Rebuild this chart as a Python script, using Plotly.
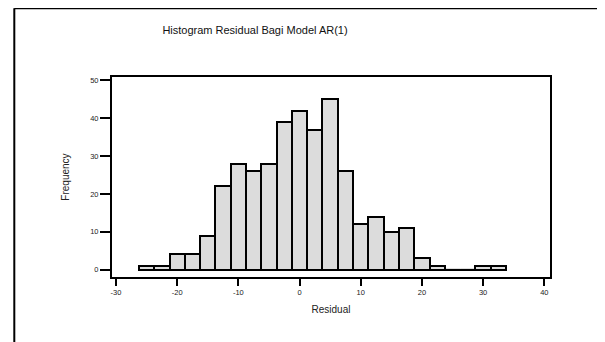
import plotly.graph_objects as go

bin_centers = [-25, -22.5, -20, -17.5, -15, -12.5, -10, -7.5, -5, -2.5, 0, 2.5,
               5, 7.5, 10, 12.5, 15, 17.5, 20, 22.5, 25, 27.5, 30, 32.5]
frequency = [1, 1, 4, 4, 9, 22, 28, 26, 28, 39, 42, 37,
             45, 26, 12, 14, 10, 11, 3, 1, 0, 0, 1, 1]
bin_width = 2.5
x_ticks = [-30, -20, -10, 0, 10, 20, 30, 40]
y_ticks = [0, 10, 20, 30, 40, 50]
title_text = "Histogram Residual Bagi Model AR(1)"
x_title = "Residual"
y_title = "Frequency"

OFF = 8  # default page body margin
W, H = 605 - OFF, 342 - OFF
ML, MR, MT, MB = 112 - OFF, 55, 77 - OFF, 65
pw, ph = W - ML - MR, H - MT - MB

def px_x(p):
    return (p - OFF - ML) / pw

def px_y(p):
    return (H - MB - (p - OFF)) / ph

fig = go.Figure()
fig.add_trace(go.Bar(
    x=bin_centers, y=frequency, width=bin_width,
    marker=dict(color="#dcdcdc", line=dict(color="black", width=2)),
    showlegend=False,
))

# empty bins are drawn as a thin line on the baseline
zx, zy = [], []
for c, f in zip(bin_centers, frequency):
    if f == 0:
        zx += [c - bin_width / 2, c + bin_width / 2, None]
        zy += [0, 0, None]
fig.add_trace(go.Scatter(x=zx, y=zy, mode="lines", line=dict(color="black", width=1.5),
                         showlegend=False, hoverinfo="skip"))

font_family = "Liberation Sans, Arial, sans-serif"
fig.update_layout(
    width=W, height=H,
    margin=dict(l=ML, r=MR, t=MT, b=MB),
    paper_bgcolor="white", plot_bgcolor="white",
    font=dict(family=font_family, color="#222"),
    bargap=0,
    xaxis=dict(
        range=[-30.65, 40.93], tickvals=x_ticks, ticktext=[str(v) for v in x_ticks],
        showgrid=False, zeroline=False, showline=True, linecolor="black", linewidth=2,
        mirror=True, ticks="outside", ticklen=7, tickwidth=2, tickcolor="black",
        tickfont=dict(size=7.5, color="#222"),
        title=dict(text=x_title, font=dict(size=10, color="#222"), standoff=10),
    ),
    yaxis=dict(
        range=[-1.95, 50.9], tickvals=y_ticks, ticktext=[str(v) for v in y_ticks],
        showgrid=False, zeroline=False, showline=True, linecolor="black", linewidth=2,
        mirror=True, ticks="outside", ticklen=10, tickwidth=2, tickcolor="black",
        tickfont=dict(size=7.5, color="#222"),
        title=dict(text=y_title, font=dict(size=10, color="#222"), standoff=19),
    ),
    title=dict(text=title_text, x=(255 - OFF) / W, xanchor="center",
               y=1 - (30 - OFF) / H, yanchor="middle", font=dict(size=11, color="#111")),
    shapes=[
        dict(type="line", xref="paper", yref="paper",
             x0=px_x(14.3), x1=px_x(14.3), y0=px_y(8.3), y1=px_y(360),
             line=dict(color="black", width=2)),
        dict(type="line", xref="paper", yref="paper",
             x0=px_x(14.3), x1=px_x(620), y0=px_y(8.3), y1=px_y(8.3),
             line=dict(color="black", width=2)),
    ],
)

fig.write_html("out.html")
